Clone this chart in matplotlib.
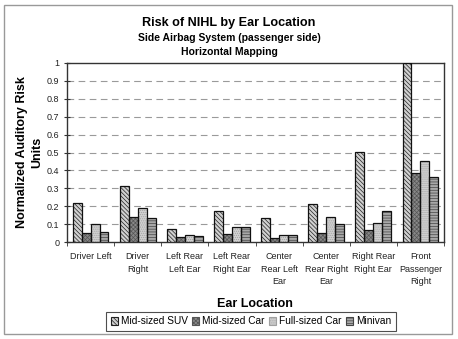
import matplotlib.pyplot as plt
import numpy as np
from matplotlib.patches import Rectangle

plt.rcParams['font.family'] = ['Liberation Sans', 'DejaVu Sans']
plt.rcParams['hatch.linewidth'] = 0.5

locations = ["Driver Left", "Driver\nRight", "Left Rear\nLeft Ear", "Left Rear\nRight Ear",
             "Center\nRear Left\nEar", "Center\nRear Right\nEar", "Right Rear\nRight Ear",
             "Front\nPassenger\nRight"]
series = ["Mid-sized SUV", "Mid-sized Car", "Full-sized Car", "Minivan"]
suv = [0.22, 0.313, 0.074, 0.171, 0.136, 0.21, 0.503, 1.0]
mid_car = [0.052, 0.141, 0.03, 0.043, 0.02, 0.05, 0.065, 0.384]
full_car = [0.099, 0.192, 0.039, 0.082, 0.037, 0.141, 0.104, 0.451]
minivan = [0.058, 0.132, 0.032, 0.082, 0.037, 0.099, 0.175, 0.365]

fig = plt.figure(figsize=(4.58, 3.39), dpi=100)
fig.patches.append(Rectangle((4/458, 1-334/339), 448/458, 329/339, transform=fig.transFigure,
                             fill=False, edgecolor='#999999', linewidth=1))
ax = fig.add_axes([67/458, 97/339, 377/458, 179/339])

x = np.arange(len(locations))
w = 0.19
# (fill, hatch colour, hatch)
styles = [('#d0d0d0', '#222222', '\\\\\\\\\\\\\\\\'),
          ('#888888', '#555555', 'xxxxxxxx'),
          ('#d0d0d0', '#a0a0a0', '........'),
          ('#a8a8a8', '#444444', '------')]
handles = []
for i, (vals, (fc, hc, hatch)) in enumerate(zip([suv, mid_car, full_car, minivan], styles)):
    pos = x + (i - 1.5) * w
    ax.bar(pos, vals, w, color=fc, edgecolor=hc, hatch=hatch, linewidth=0, zorder=3)
    ax.bar(pos, vals, w, fill=False, edgecolor='#111111', linewidth=0.9, zorder=4)
    handles.append(Rectangle((0, 0), 1, 1, facecolor=fc, edgecolor=hc, hatch=hatch,
                             linewidth=0.8, label=series[i]))

ax.set_xlim(-0.5, len(locations) - 0.5)
ax.set_ylim(0, 1)
ax.set_yticks(np.arange(0, 1.01, 0.1))
ax.set_yticklabels(['0'] + ['%.1f' % v for v in np.arange(0.1, 0.95, 0.1)] + ['1'],
                   fontsize=6.5, color='#222222')
for v in np.arange(0.1, 0.95, 0.1):
    ax.axhline(v, color='#9a9a9a', linestyle=(0, (6, 4)), linewidth=0.8, zorder=1)
ax.set_xticks(x)
ax.set_xticklabels(locations, fontsize=6.5, color='#222222', linespacing=1.55)
ax.set_xticks(np.arange(-0.5, len(locations)), minor=True)
ax.tick_params(axis='x', which='major', length=0, pad=7)
ax.tick_params(axis='x', which='minor', length=3, direction='out', color='#333333')
ax.tick_params(axis='y', length=5, direction='inout', pad=3, color='#333333')
for s in ax.spines.values():
    s.set_linewidth(1)
    s.set_color('#333333')

ax.set_xlabel("Ear Location", fontsize=9, fontweight='bold')
ax.xaxis.set_label_coords((255 - 67) / 377, (242 - 298) / 179)
ax.set_ylabel("Normalized Auditory Risk\nUnits", fontsize=9, fontweight='bold', linespacing=1.35)
ax.yaxis.set_label_coords((43 - 67) / 377, 0.5)

fig.text(229/458, 1 - 23/339, "Risk of NIHL by Ear Location", ha='center', va='center',
         fontsize=9.1, fontweight='bold')
fig.text(229/458, 1 - 38/339, "Side Airbag System (passenger side)", ha='center', va='center',
         fontsize=7.5, fontweight='bold')
fig.text(229/458, 1 - 52/339, "Horizontal Mapping", ha='center', va='center',
         fontsize=7.5, fontweight='bold')

leg = fig.legend(handles=handles, loc='center', bbox_to_anchor=(251/458, 1 - 321.5/339), ncol=4,
                 fontsize=7.3, handlelength=0.7, handleheight=0.7, handletextpad=0.3,
                 columnspacing=0.4, fancybox=False, edgecolor='#222222', borderpad=0.45)
leg.get_frame().set_linewidth(0.8)

fig.savefig("out.png", dpi=100)
